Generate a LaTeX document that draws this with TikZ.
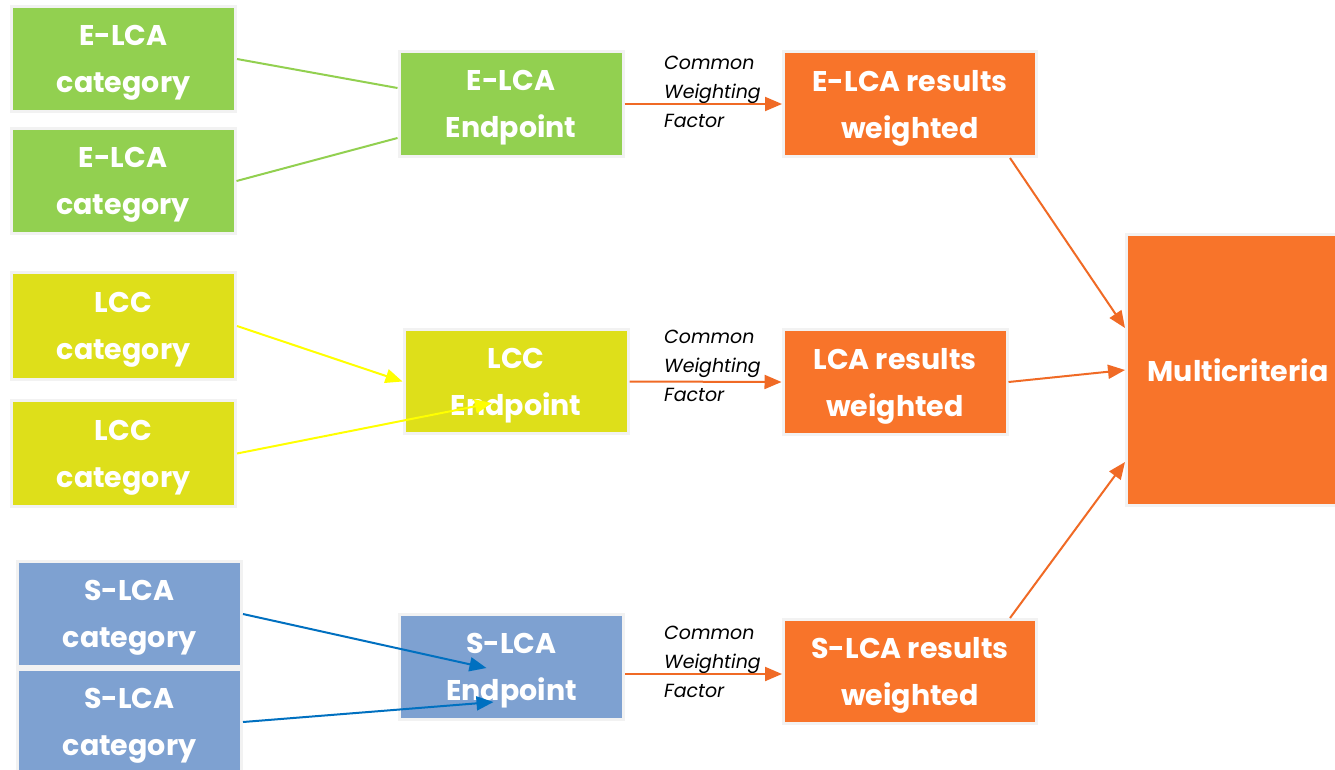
\documentclass[tikz,border=0pt]{standalone}
\usepackage{fontspec}
\setmainfont{Poppins}
\usepackage{tikz}
\usetikzlibrary{arrows.meta,positioning}
\definecolor{boxGreen}{HTML}{92D050}
\definecolor{boxYellow}{HTML}{DEDF1A}
\definecolor{boxBlue}{HTML}{7EA1D1}
\definecolor{boxOrange}{HTML}{F8742A}
\definecolor{edgeGray}{HTML}{F2F2F2}
\definecolor{lineYellow}{HTML}{FFFF00}
\definecolor{lineBlue}{HTML}{0070C0}
\definecolor{lineOrange}{HTML}{F06A25}

\tikzset{
  box/.style={draw=edgeGray, line width=3pt, text=white, align=center,
    inner sep=0pt, minimum width=224pt, minimum height=105pt,
    font=\fontsize{28.5}{47}\selectfont\bfseries, text depth=-3pt},
  gbox/.style={box, fill=boxGreen},
  ybox/.style={box, fill=boxYellow},
  bbox/.style={box, fill=boxBlue},
  obox/.style={box, fill=boxOrange},
  wlabel/.style={anchor=west, align=left, inner sep=0pt,
    font=\fontsize{19}{29}\selectfont\itshape},
  tip/.style={-{Triangle[length=17pt,width=14pt]}, line width=2pt},
}

\begin{document}
\begin{tikzpicture}[x=1pt, y=-1pt]
    \useasboundingbox (0,0) rectangle (1335,769);
    \fill[white] (0,0) rectangle (1335,769);

    % category boxes
    \node[gbox] (ec1) at (123.5, 59)  {E-LCA\\category};
    \node[gbox] (ec2) at (123, 181)   {E-LCA\\category};
    \node[ybox, minimum height=107pt] (lc1) at (123.5, 326) {LCC\\category};
    \node[ybox, minimum height=106pt] (lc2) at (123.5, 453.5) {LCC\\category};
    \node[bbox] (sc1) at (129.5, 614) {S-LCA\\category};
    \node[bbox] (sc2) at (129.5, 722) {S-LCA\\category};

    % endpoints
    \node[gbox] (ee) at (511, 104)   {E-LCA\\Endpoint};
    \node[ybox, minimum height=104pt] (le) at (516, 381.5) {LCC\\Endpoint};
    \node[bbox] (se) at (511.5, 667) {S-LCA\\Endpoint};

    % weighted results
    \node[obox, minimum width=253pt] (er) at (910, 104) {E-LCA results\\weighted};
    \node[obox] (lr) at (895, 382) {LCA results\\weighted};
    \node[obox, minimum width=253pt, minimum height=104pt] (sr) at (910, 671.5) {S-LCA results\\weighted};

    \node[obox, minimum width=223pt, minimum height=271pt] (mc) at (1238, 370) {Multicriteria};

    % weighting labels
    \node[wlabel] (w1) at (664, 92)  {Common\\Weighting\\Factor};
    \node[wlabel] (w2) at (664, 366) {Common\\Weighting\\Factor};
    \node[wlabel] (w3) at (664, 662) {Common\\Weighting\\Factor};

    % connectors
    \draw[boxGreen, line width=2pt] (ec1.east) -- ([yshift=16pt]ee.west);
    \draw[boxGreen, line width=2pt] (ec2.east) -- ([yshift=-34pt]ee.west);

    \draw[tip, lineYellow] (lc1.east) -- (le.west);
    \draw[tip, lineYellow] (lc2.east) -- ([xshift=-24pt,yshift=-21.5pt]le.center);

    \draw[tip, lineBlue] (sc1.east) -- ([xshift=-25pt,yshift=-1pt]se.center);
    \draw[tip, lineBlue] (sc2.east) -- ([xshift=-18pt,yshift=-35pt]se.center);

    \draw[tip, lineOrange] (ee.east) -- (er.west);
    \draw[tip, lineOrange] (le.east) -- (lr.west);
    \draw[tip, lineOrange] ([yshift=-7pt]se.east) -- ([yshift=-2.5pt]sr.west);

    \draw[tip, lineOrange] ([xshift=-28pt]er.south east) -- ([yshift=42pt]mc.west);
    \draw[tip, lineOrange] (lr.east) -- (mc.west);
    \draw[tip, lineOrange] ([xshift=-28pt]sr.north east) -- ([yshift=-92pt]mc.west);
\end{tikzpicture}
\end{document}
